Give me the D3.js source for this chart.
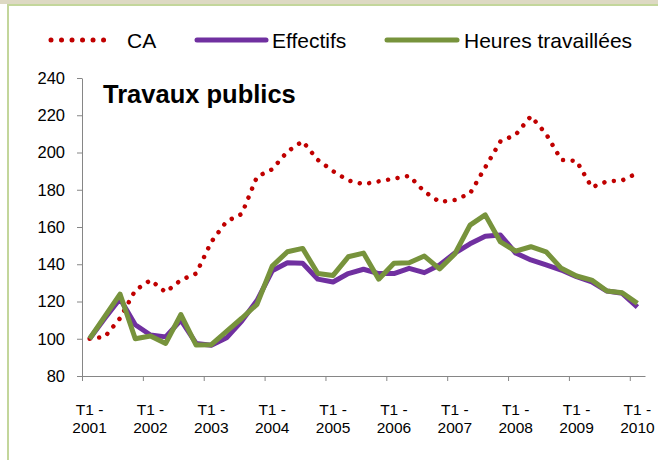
<!DOCTYPE html>
<html>
<head>
<meta charset="utf-8">
<style>
  body { margin: 0; background: #fff; }
  svg { font-family: "Liberation Sans", Arial, sans-serif; }
  .axis path, .axis line { stroke: #868686; }
</style>
</head>
<body>
<script src="https://d3js.org/d3.v7.min.js"></script>
<script>
// trimestres T1 2001 .. T1 2010
var years = ["2001", "2002", "2003", "2004", "2005", "2006", "2007", "2008", "2009", "2010"];
var quarters = [];
years.forEach(function (y, k) {
  var n = k < years.length - 1 ? 4 : 1;
  for (var q = 1; q <= n; q++) quarters.push("T" + q + " - " + y);
});

var ca = [100, 101, 111, 126, 131.5, 125, 131.5, 135, 152, 163, 167, 187, 191, 200.5, 206, 196,
  190, 185, 183, 184.5, 186, 187.5, 179, 173.5, 174.5, 178, 192, 206, 209.5, 219.5, 210, 196,
  195.5, 181.3, 184.5, 185, 189];
var effectifs = [100, 111, 121.5, 107.5, 102, 101, 110, 97.5, 96.5, 100.5, 109.5, 120.5, 136.5, 140.8, 140.5, 132,
  130.5, 135, 137.3, 135, 135, 137.8, 135.5, 139.6, 146, 151, 155, 155.7, 146, 142.3, 139.6, 136.9,
  133.3, 130.6, 125.6, 124.4, 117];
var heures = [100, 112, 124, 100, 101.5, 97.5, 113, 96.6, 96.8, 104, 111, 118.5, 139, 146.7, 148.5, 135,
  134, 144, 146, 132, 140.5, 140.8, 144.4, 137.5, 145.5, 161, 166.5, 152, 147, 149.4, 146.7, 137.8,
  133.7, 131.5, 125.6, 124.7, 119];
var yTicks = [80, 100, 120, 140, 160, 180, 200, 220, 240];

var series = [
  { name: "CA", values: ca, color: "#c00000", dotted: true },
  { name: "Effectifs", values: effectifs, color: "#7030a0" },
  { name: "Heures travaillées", values: heures, color: "#77933c" }
];

var W = 658, H = 460;
var svg = d3.select("body").append("svg").attr("width", W).attr("height", H);

// cadre
svg.append("rect").attr("x", 0).attr("y", 0).attr("width", W).attr("height", 4).attr("fill", "#ddd9c3");
svg.append("path").attr("d", "M8," + H + "V5H" + W)
  .attr("fill", "none").attr("stroke", "#c3d69b").attr("stroke-width", 2);

var x = d3.scaleBand().domain(d3.range(quarters.length)).range([82, 645]);
var xb = d3.scaleLinear().domain([0, quarters.length]).range([82, 645]);
var y = d3.scaleLinear().domain([80, 240]).range([376, 78]);

// axe Y
svg.append("g").attr("class", "axis")
  .attr("transform", "translate(82,0)")
  .call(d3.axisLeft(y).tickValues(yTicks).tickSize(5).tickSizeOuter(0).tickPadding(12))
  .call(function (g) {
    g.selectAll("text").attr("font-size", 16.5).attr("fill", "#000").attr("font-family", null);
  });

// axe X
svg.append("g").attr("class", "axis")
  .attr("transform", "translate(0,376)")
  .call(d3.axisBottom(xb).tickValues(d3.range(0, quarters.length, 4)).tickSize(5).tickSizeOuter(0).tickFormat(""));

var lab = svg.append("g").selectAll("text")
  .data(d3.range(0, quarters.length, 4))
  .enter().append("text")
  .attr("text-anchor", "middle")
  .attr("font-size", 15.5)
  .attr("x", function (i) { return x(i) + x.bandwidth() / 2; });
lab.append("tspan").attr("y", 415).attr("x", function (i) { return x(i) + x.bandwidth() / 2; })
  .text(function (i) { return quarters[i].split(" - ")[0] + " -"; });
lab.append("tspan").attr("y", 433).attr("x", function (i) { return x(i) + x.bandwidth() / 2; })
  .text(function (i) { return quarters[i].split(" - ")[1]; });

// courbes
var line = d3.line()
  .x(function (d, i) { return x(i) + x.bandwidth() / 2; })
  .y(function (d) { return y(d); });

series.forEach(function (s) {
  var p = svg.append("path")
    .attr("d", line(s.values))
    .attr("fill", "none")
    .attr("stroke", s.color)
    .attr("stroke-linejoin", "round");
  if (s.dotted) {
    p.attr("stroke-width", 4.5).attr("stroke-linecap", "round").attr("stroke-dasharray", "0.01 9.6");
  } else {
    p.attr("stroke-width", 5).attr("stroke-linecap", "butt");
  }
});

// titre
svg.append("text").attr("x", 103).attr("y", 103)
  .attr("font-size", 25.5).attr("font-weight", "bold").text("Travaux publics");

// légende
var legendPos = [{ x1: 51, x2: 114, tx: 127 }, { x1: 197, x2: 266, tx: 272 }, { x1: 387, x2: 457, tx: 464 }];
series.forEach(function (s, k) {
  var lp = legendPos[k];
  var l = svg.append("line").attr("x1", lp.x1).attr("x2", lp.x2).attr("y1", 40).attr("y2", 40)
    .attr("stroke", s.color).attr("stroke-linecap", "round");
  if (s.dotted) l.attr("stroke-width", 5).attr("stroke-dasharray", "0.01 10.5");
  else l.attr("stroke-width", 5);
  svg.append("text").attr("x", lp.tx).attr("y", 47.5).attr("font-size", 21).text(s.name);
});
</script>
</body>
</html>
